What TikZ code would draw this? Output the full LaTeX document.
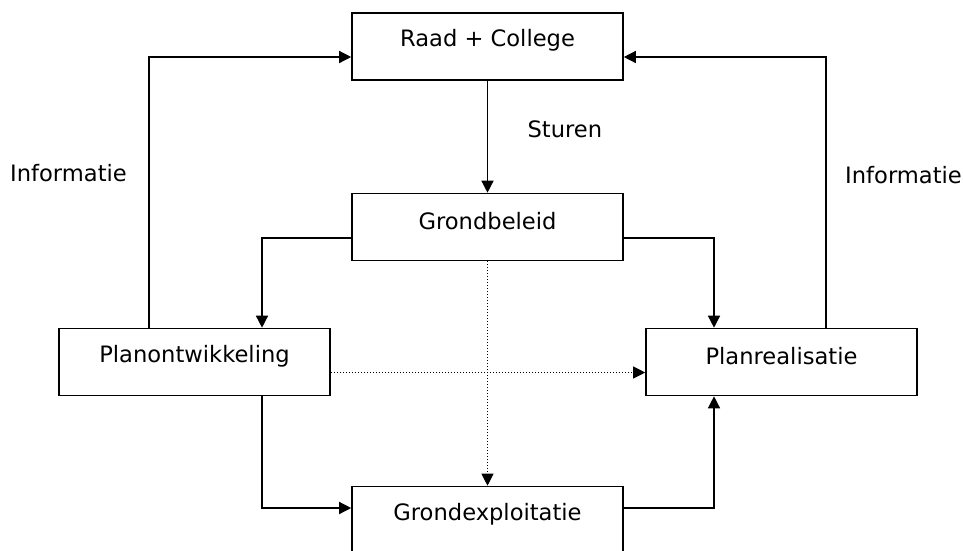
\documentclass[tikz,border=0pt]{standalone}
\usepackage{fontspec}
\setmainfont{DejaVu Sans}
\usetikzlibrary{arrows.meta}
\begin{document}
\begin{tikzpicture}[x=1pt,y=-1pt,
  font=\fontsize{22.6}{25}\selectfont,
  box/.style={draw,line width=1.6pt,minimum width=271pt,minimum height=67pt,inner sep=0pt,
    label={[yshift=6pt]center:#1}},
  arr/.style={line width=1.4pt,-{Triangle[length=12pt,width=12pt]}},
  dots/.style={line width=1pt,dotted,-{Triangle[length=12pt,width=12pt]}}]
\useasboundingbox (0,0) rectangle (963,550);
\node[box={Raad + College}] (raad) at (487.5,46.5) {};
\node[box={Grondbeleid}] (grond) at (487.5,227) {};
\node[box={Planontwikkeling}] (planont) at (194.5,362) {};
\node[box={Planrealisatie}] (planreal) at (781.5,362) {};
\node[box={Grondexploitatie}] (grondex) at (487.5,520) {};
% labels
\node[anchor=west] (sturen) at (524,129) {Sturen};
\node (infoL) at (68.5,173) {Informatie};
\node (infoR) at (903.5,175) {Informatie};
% connectors
\draw[arr] (raad.south) -- (grond.north);
\draw[arr] ([yshift=-11pt]grond.west) -| ([xshift=67.5pt]planont.north);
\draw[arr] ([yshift=-11pt]grond.east) -| ([xshift=-67.5pt]planreal.north);
\draw[arr] ([xshift=-45.5pt]planont.north) |- ([yshift=-10.5pt]raad.west);
\draw[arr] ([xshift=44.5pt]planreal.north) |- ([yshift=-10.5pt]raad.east);
\draw[dots] (grond.south) -- (grondex.north);
\draw[dots] ([yshift=-10.5pt]planont.east) -- ([yshift=-10.5pt]planreal.west);
\draw[arr] ([xshift=67.5pt]planont.south) |- ([yshift=12pt]grondex.west);
\draw[arr] ([yshift=12pt]grondex.east) -| ([xshift=-67.5pt]planreal.south);
\end{tikzpicture}
\end{document}
